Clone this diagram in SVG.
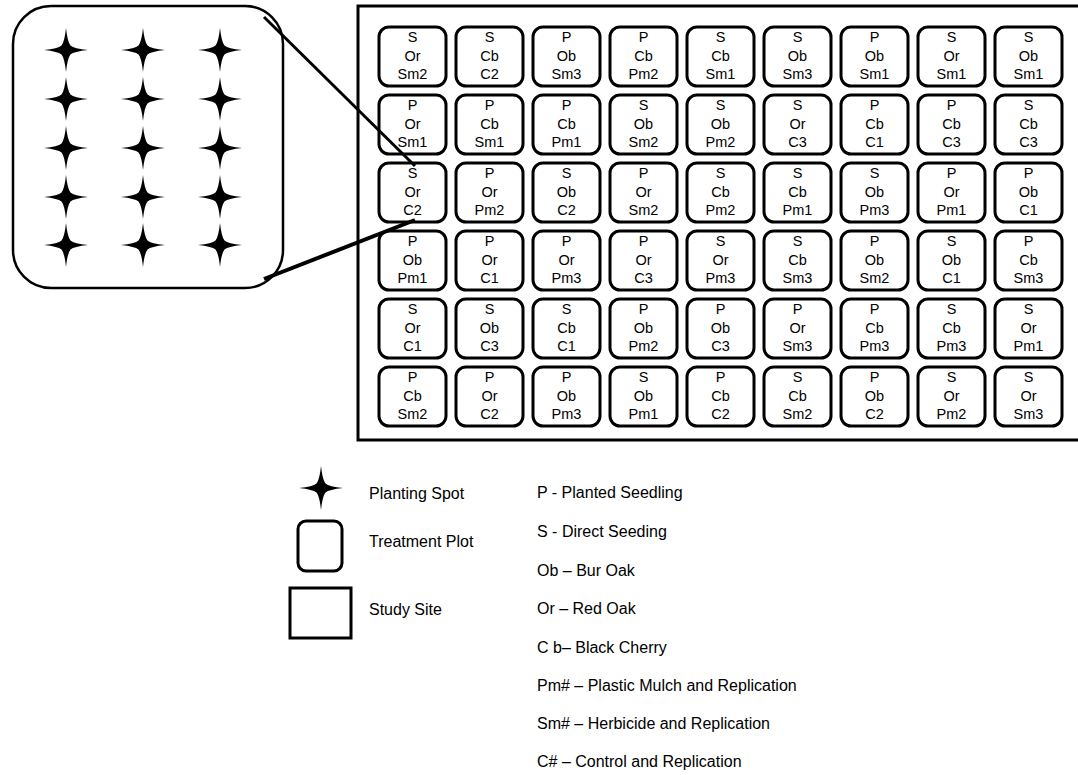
<svg xmlns="http://www.w3.org/2000/svg" xmlns:xlink="http://www.w3.org/1999/xlink" width="1078" height="775" viewBox="0 0 1078 775">
<style>
.plot{fill:#fff;stroke:#000;stroke-width:3}
.pt{font-family:"Liberation Sans",Arial,sans-serif;font-size:14.5px;fill:#000;text-anchor:middle}
.lg{font-family:"Liberation Sans",Arial,sans-serif;font-size:16px;fill:#000}
.conn{stroke:#000;fill:none}
</style>
<defs>
<path id="star" d="M0,-22 Q1.5,-8 4.5,-4.5 Q8,-1.5 22,0 Q8,1.5 4.5,4.5 Q1.5,8 0,22 Q-1.5,8 -4.5,4.5 Q-8,1.5 -22,0 Q-8,-1.5 -4.5,-4.5 Q-1.5,-8 0,-22 Z" fill="#000"/>
</defs>
<rect width="1078" height="775" fill="#fff"/>
<g id="study-site"><rect x="358" y="6" width="740" height="434" fill="none" stroke="#000" stroke-width="3"/></g>
<g id="zoom-panel">
<rect x="13" y="6" width="270" height="282" rx="38" fill="#fff" stroke="#000" stroke-width="2.5"/>
<use xlink:href="#star" x="66" y="50"/><use xlink:href="#star" x="143" y="50"/><use xlink:href="#star" x="220" y="50"/>
<use xlink:href="#star" x="66" y="99"/><use xlink:href="#star" x="143" y="99"/><use xlink:href="#star" x="220" y="99"/>
<use xlink:href="#star" x="66" y="148"/><use xlink:href="#star" x="143" y="148"/><use xlink:href="#star" x="220" y="148"/>
<use xlink:href="#star" x="66" y="197"/><use xlink:href="#star" x="143" y="197"/><use xlink:href="#star" x="220" y="197"/>
<use xlink:href="#star" x="66" y="245"/><use xlink:href="#star" x="143" y="245"/><use xlink:href="#star" x="220" y="245"/>
</g>
<g id="plots">
<g id="r1c1"><rect class="plot" x="379" y="27" width="67" height="59" rx="10"/><text class="pt"><tspan x="412.5" y="42">S</tspan><tspan x="412.5" y="61">Or</tspan><tspan x="412.5" y="79">Sm2</tspan></text></g>
<g id="r1c2"><rect class="plot" x="456" y="27" width="67" height="59" rx="10"/><text class="pt"><tspan x="489.5" y="42">S</tspan><tspan x="489.5" y="61">Cb</tspan><tspan x="489.5" y="79">C2</tspan></text></g>
<g id="r1c3"><rect class="plot" x="533" y="27" width="67" height="59" rx="10"/><text class="pt"><tspan x="566.5" y="42">P</tspan><tspan x="566.5" y="61">Ob</tspan><tspan x="566.5" y="79">Sm3</tspan></text></g>
<g id="r1c4"><rect class="plot" x="610" y="27" width="67" height="59" rx="10"/><text class="pt"><tspan x="643.5" y="42">P</tspan><tspan x="643.5" y="61">Cb</tspan><tspan x="643.5" y="79">Pm2</tspan></text></g>
<g id="r1c5"><rect class="plot" x="687" y="27" width="67" height="59" rx="10"/><text class="pt"><tspan x="720.5" y="42">S</tspan><tspan x="720.5" y="61">Cb</tspan><tspan x="720.5" y="79">Sm1</tspan></text></g>
<g id="r1c6"><rect class="plot" x="764" y="27" width="67" height="59" rx="10"/><text class="pt"><tspan x="797.5" y="42">S</tspan><tspan x="797.5" y="61">Ob</tspan><tspan x="797.5" y="79">Sm3</tspan></text></g>
<g id="r1c7"><rect class="plot" x="841" y="27" width="67" height="59" rx="10"/><text class="pt"><tspan x="874.5" y="42">P</tspan><tspan x="874.5" y="61">Ob</tspan><tspan x="874.5" y="79">Sm1</tspan></text></g>
<g id="r1c8"><rect class="plot" x="918" y="27" width="67" height="59" rx="10"/><text class="pt"><tspan x="951.5" y="42">S</tspan><tspan x="951.5" y="61">Or</tspan><tspan x="951.5" y="79">Sm1</tspan></text></g>
<g id="r1c9"><rect class="plot" x="995" y="27" width="67" height="59" rx="10"/><text class="pt"><tspan x="1028.5" y="42">S</tspan><tspan x="1028.5" y="61">Ob</tspan><tspan x="1028.5" y="79">Sm1</tspan></text></g>

<g id="r2c1"><rect class="plot" x="379" y="95" width="67" height="59" rx="10"/><text class="pt"><tspan x="412.5" y="110">P</tspan><tspan x="412.5" y="129">Or</tspan><tspan x="412.5" y="147">Sm1</tspan></text></g>
<g id="r2c2"><rect class="plot" x="456" y="95" width="67" height="59" rx="10"/><text class="pt"><tspan x="489.5" y="110">P</tspan><tspan x="489.5" y="129">Cb</tspan><tspan x="489.5" y="147">Sm1</tspan></text></g>
<g id="r2c3"><rect class="plot" x="533" y="95" width="67" height="59" rx="10"/><text class="pt"><tspan x="566.5" y="110">P</tspan><tspan x="566.5" y="129">Cb</tspan><tspan x="566.5" y="147">Pm1</tspan></text></g>
<g id="r2c4"><rect class="plot" x="610" y="95" width="67" height="59" rx="10"/><text class="pt"><tspan x="643.5" y="110">S</tspan><tspan x="643.5" y="129">Ob</tspan><tspan x="643.5" y="147">Sm2</tspan></text></g>
<g id="r2c5"><rect class="plot" x="687" y="95" width="67" height="59" rx="10"/><text class="pt"><tspan x="720.5" y="110">S</tspan><tspan x="720.5" y="129">Ob</tspan><tspan x="720.5" y="147">Pm2</tspan></text></g>
<g id="r2c6"><rect class="plot" x="764" y="95" width="67" height="59" rx="10"/><text class="pt"><tspan x="797.5" y="110">S</tspan><tspan x="797.5" y="129">Or</tspan><tspan x="797.5" y="147">C3</tspan></text></g>
<g id="r2c7"><rect class="plot" x="841" y="95" width="67" height="59" rx="10"/><text class="pt"><tspan x="874.5" y="110">P</tspan><tspan x="874.5" y="129">Cb</tspan><tspan x="874.5" y="147">C1</tspan></text></g>
<g id="r2c8"><rect class="plot" x="918" y="95" width="67" height="59" rx="10"/><text class="pt"><tspan x="951.5" y="110">P</tspan><tspan x="951.5" y="129">Cb</tspan><tspan x="951.5" y="147">C3</tspan></text></g>
<g id="r2c9"><rect class="plot" x="995" y="95" width="67" height="59" rx="10"/><text class="pt"><tspan x="1028.5" y="110">S</tspan><tspan x="1028.5" y="129">Cb</tspan><tspan x="1028.5" y="147">C3</tspan></text></g>

<g id="r3c1"><rect class="plot" x="379" y="163" width="67" height="59" rx="10"/><text class="pt"><tspan x="412.5" y="178">S</tspan><tspan x="412.5" y="197">Or</tspan><tspan x="412.5" y="215">C2</tspan></text></g>
<g id="r3c2"><rect class="plot" x="456" y="163" width="67" height="59" rx="10"/><text class="pt"><tspan x="489.5" y="178">P</tspan><tspan x="489.5" y="197">Or</tspan><tspan x="489.5" y="215">Pm2</tspan></text></g>
<g id="r3c3"><rect class="plot" x="533" y="163" width="67" height="59" rx="10"/><text class="pt"><tspan x="566.5" y="178">S</tspan><tspan x="566.5" y="197">Ob</tspan><tspan x="566.5" y="215">C2</tspan></text></g>
<g id="r3c4"><rect class="plot" x="610" y="163" width="67" height="59" rx="10"/><text class="pt"><tspan x="643.5" y="178">P</tspan><tspan x="643.5" y="197">Or</tspan><tspan x="643.5" y="215">Sm2</tspan></text></g>
<g id="r3c5"><rect class="plot" x="687" y="163" width="67" height="59" rx="10"/><text class="pt"><tspan x="720.5" y="178">S</tspan><tspan x="720.5" y="197">Cb</tspan><tspan x="720.5" y="215">Pm2</tspan></text></g>
<g id="r3c6"><rect class="plot" x="764" y="163" width="67" height="59" rx="10"/><text class="pt"><tspan x="797.5" y="178">S</tspan><tspan x="797.5" y="197">Cb</tspan><tspan x="797.5" y="215">Pm1</tspan></text></g>
<g id="r3c7"><rect class="plot" x="841" y="163" width="67" height="59" rx="10"/><text class="pt"><tspan x="874.5" y="178">S</tspan><tspan x="874.5" y="197">Ob</tspan><tspan x="874.5" y="215">Pm3</tspan></text></g>
<g id="r3c8"><rect class="plot" x="918" y="163" width="67" height="59" rx="10"/><text class="pt"><tspan x="951.5" y="178">P</tspan><tspan x="951.5" y="197">Or</tspan><tspan x="951.5" y="215">Pm1</tspan></text></g>
<g id="r3c9"><rect class="plot" x="995" y="163" width="67" height="59" rx="10"/><text class="pt"><tspan x="1028.5" y="178">P</tspan><tspan x="1028.5" y="197">Ob</tspan><tspan x="1028.5" y="215">C1</tspan></text></g>

<g id="r4c1"><rect class="plot" x="379" y="231" width="67" height="59" rx="10"/><text class="pt"><tspan x="412.5" y="246">P</tspan><tspan x="412.5" y="265">Ob</tspan><tspan x="412.5" y="283">Pm1</tspan></text></g>
<g id="r4c2"><rect class="plot" x="456" y="231" width="67" height="59" rx="10"/><text class="pt"><tspan x="489.5" y="246">P</tspan><tspan x="489.5" y="265">Or</tspan><tspan x="489.5" y="283">C1</tspan></text></g>
<g id="r4c3"><rect class="plot" x="533" y="231" width="67" height="59" rx="10"/><text class="pt"><tspan x="566.5" y="246">P</tspan><tspan x="566.5" y="265">Or</tspan><tspan x="566.5" y="283">Pm3</tspan></text></g>
<g id="r4c4"><rect class="plot" x="610" y="231" width="67" height="59" rx="10"/><text class="pt"><tspan x="643.5" y="246">P</tspan><tspan x="643.5" y="265">Or</tspan><tspan x="643.5" y="283">C3</tspan></text></g>
<g id="r4c5"><rect class="plot" x="687" y="231" width="67" height="59" rx="10"/><text class="pt"><tspan x="720.5" y="246">S</tspan><tspan x="720.5" y="265">Or</tspan><tspan x="720.5" y="283">Pm3</tspan></text></g>
<g id="r4c6"><rect class="plot" x="764" y="231" width="67" height="59" rx="10"/><text class="pt"><tspan x="797.5" y="246">S</tspan><tspan x="797.5" y="265">Cb</tspan><tspan x="797.5" y="283">Sm3</tspan></text></g>
<g id="r4c7"><rect class="plot" x="841" y="231" width="67" height="59" rx="10"/><text class="pt"><tspan x="874.5" y="246">P</tspan><tspan x="874.5" y="265">Ob</tspan><tspan x="874.5" y="283">Sm2</tspan></text></g>
<g id="r4c8"><rect class="plot" x="918" y="231" width="67" height="59" rx="10"/><text class="pt"><tspan x="951.5" y="246">S</tspan><tspan x="951.5" y="265">Ob</tspan><tspan x="951.5" y="283">C1</tspan></text></g>
<g id="r4c9"><rect class="plot" x="995" y="231" width="67" height="59" rx="10"/><text class="pt"><tspan x="1028.5" y="246">P</tspan><tspan x="1028.5" y="265">Cb</tspan><tspan x="1028.5" y="283">Sm3</tspan></text></g>

<g id="r5c1"><rect class="plot" x="379" y="299" width="67" height="59" rx="10"/><text class="pt"><tspan x="412.5" y="314">S</tspan><tspan x="412.5" y="333">Or</tspan><tspan x="412.5" y="351">C1</tspan></text></g>
<g id="r5c2"><rect class="plot" x="456" y="299" width="67" height="59" rx="10"/><text class="pt"><tspan x="489.5" y="314">S</tspan><tspan x="489.5" y="333">Ob</tspan><tspan x="489.5" y="351">C3</tspan></text></g>
<g id="r5c3"><rect class="plot" x="533" y="299" width="67" height="59" rx="10"/><text class="pt"><tspan x="566.5" y="314">S</tspan><tspan x="566.5" y="333">Cb</tspan><tspan x="566.5" y="351">C1</tspan></text></g>
<g id="r5c4"><rect class="plot" x="610" y="299" width="67" height="59" rx="10"/><text class="pt"><tspan x="643.5" y="314">P</tspan><tspan x="643.5" y="333">Ob</tspan><tspan x="643.5" y="351">Pm2</tspan></text></g>
<g id="r5c5"><rect class="plot" x="687" y="299" width="67" height="59" rx="10"/><text class="pt"><tspan x="720.5" y="314">P</tspan><tspan x="720.5" y="333">Ob</tspan><tspan x="720.5" y="351">C3</tspan></text></g>
<g id="r5c6"><rect class="plot" x="764" y="299" width="67" height="59" rx="10"/><text class="pt"><tspan x="797.5" y="314">P</tspan><tspan x="797.5" y="333">Or</tspan><tspan x="797.5" y="351">Sm3</tspan></text></g>
<g id="r5c7"><rect class="plot" x="841" y="299" width="67" height="59" rx="10"/><text class="pt"><tspan x="874.5" y="314">P</tspan><tspan x="874.5" y="333">Cb</tspan><tspan x="874.5" y="351">Pm3</tspan></text></g>
<g id="r5c8"><rect class="plot" x="918" y="299" width="67" height="59" rx="10"/><text class="pt"><tspan x="951.5" y="314">S</tspan><tspan x="951.5" y="333">Cb</tspan><tspan x="951.5" y="351">Pm3</tspan></text></g>
<g id="r5c9"><rect class="plot" x="995" y="299" width="67" height="59" rx="10"/><text class="pt"><tspan x="1028.5" y="314">S</tspan><tspan x="1028.5" y="333">Or</tspan><tspan x="1028.5" y="351">Pm1</tspan></text></g>

<g id="r6c1"><rect class="plot" x="379" y="367" width="67" height="59" rx="10"/><text class="pt"><tspan x="412.5" y="382">P</tspan><tspan x="412.5" y="401">Cb</tspan><tspan x="412.5" y="419">Sm2</tspan></text></g>
<g id="r6c2"><rect class="plot" x="456" y="367" width="67" height="59" rx="10"/><text class="pt"><tspan x="489.5" y="382">P</tspan><tspan x="489.5" y="401">Or</tspan><tspan x="489.5" y="419">C2</tspan></text></g>
<g id="r6c3"><rect class="plot" x="533" y="367" width="67" height="59" rx="10"/><text class="pt"><tspan x="566.5" y="382">P</tspan><tspan x="566.5" y="401">Ob</tspan><tspan x="566.5" y="419">Pm3</tspan></text></g>
<g id="r6c4"><rect class="plot" x="610" y="367" width="67" height="59" rx="10"/><text class="pt"><tspan x="643.5" y="382">S</tspan><tspan x="643.5" y="401">Ob</tspan><tspan x="643.5" y="419">Pm1</tspan></text></g>
<g id="r6c5"><rect class="plot" x="687" y="367" width="67" height="59" rx="10"/><text class="pt"><tspan x="720.5" y="382">P</tspan><tspan x="720.5" y="401">Cb</tspan><tspan x="720.5" y="419">C2</tspan></text></g>
<g id="r6c6"><rect class="plot" x="764" y="367" width="67" height="59" rx="10"/><text class="pt"><tspan x="797.5" y="382">S</tspan><tspan x="797.5" y="401">Cb</tspan><tspan x="797.5" y="419">Sm2</tspan></text></g>
<g id="r6c7"><rect class="plot" x="841" y="367" width="67" height="59" rx="10"/><text class="pt"><tspan x="874.5" y="382">P</tspan><tspan x="874.5" y="401">Ob</tspan><tspan x="874.5" y="419">C2</tspan></text></g>
<g id="r6c8"><rect class="plot" x="918" y="367" width="67" height="59" rx="10"/><text class="pt"><tspan x="951.5" y="382">S</tspan><tspan x="951.5" y="401">Or</tspan><tspan x="951.5" y="419">Pm2</tspan></text></g>
<g id="r6c9"><rect class="plot" x="995" y="367" width="67" height="59" rx="10"/><text class="pt"><tspan x="1028.5" y="382">S</tspan><tspan x="1028.5" y="401">Or</tspan><tspan x="1028.5" y="419">Sm3</tspan></text></g>
</g>
<g id="connectors">
<line class="conn" x1="264" y1="17" x2="415" y2="166" stroke-width="3"/>
<line class="conn" x1="264" y1="279" x2="415" y2="220" stroke-width="4"/>
</g>
<g id="legend">
<g id="legend-star"><use xlink:href="#star" x="321" y="488"/><text class="lg" x="369" y="499">Planting Spot</text></g>
<g id="legend-plot"><rect x="298" y="521" width="44" height="50" rx="8" fill="none" stroke="#000" stroke-width="3"/><text class="lg" x="369" y="547">Treatment Plot</text></g>
<g id="legend-site"><rect x="290" y="588" width="61" height="50" fill="none" stroke="#000" stroke-width="3"/><text class="lg" x="369" y="615">Study Site</text></g>
<g id="legend-codes">
<text class="lg" x="537" y="498">P - Planted Seedling</text>
<text class="lg" x="537" y="537">S - Direct Seeding</text>
<text class="lg" x="537" y="576">Ob – Bur Oak</text>
<text class="lg" x="537" y="614">Or – Red Oak</text>
<text class="lg" x="537" y="653">C b– Black Cherry</text>
<text class="lg" x="537" y="691">Pm# – Plastic Mulch and Replication</text>
<text class="lg" x="537" y="729">Sm# – Herbicide and Replication</text>
<text class="lg" x="537" y="767">C# – Control and Replication</text>
</g>
</g>
</svg>
